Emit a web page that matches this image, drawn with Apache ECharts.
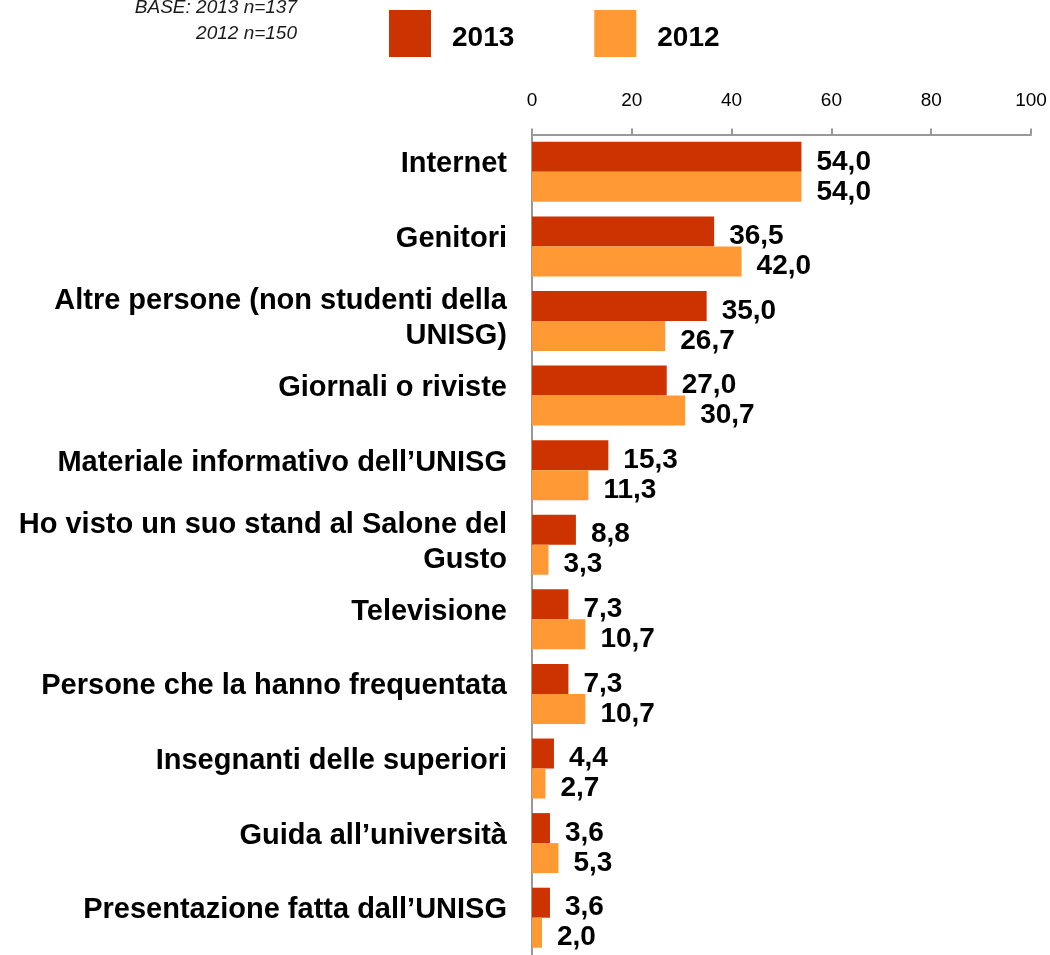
<!DOCTYPE html>
<html style="height: 100%">
<head>
    <meta charset="utf-8">
</head>
<body style="height: 100%; margin: 0">
<div id="container" style="width: 1050px; height: 955px"></div>
<script type="text/javascript" src="https://cdn.jsdelivr.net/npm/echarts@6/dist/echarts.min.js"></script>
<script type="text/javascript">
    var categories = [
        'Internet',
        'Genitori',
        'Altre persone (non studenti della\nUNISG)',
        'Giornali o riviste',
        'Materiale informativo dell\u2019UNISG',
        'Ho visto un suo stand al Salone del\nGusto',
        'Televisione',
        'Persone che la hanno frequentata',
        'Insegnanti delle superiori',
        'Guida all\u2019universit\u00e0',
        'Presentazione fatta dall\u2019UNISG'
    ];
    var values2013 = [54.0, 36.5, 35.0, 27.0, 15.3, 8.8, 7.3, 7.3, 4.4, 3.6, 3.6];
    var values2012 = [54.0, 42.0, 26.7, 30.7, 11.3, 3.3, 10.7, 10.7, 2.7, 5.3, 2.0];
    var baseLines = ['BASE: 2013 n=137', '2012 n=150'];

    var dom = document.getElementById("container");
    var myChart = echarts.init(dom);
    var font = 'Liberation Sans, Arial, sans-serif';

    function fmt(p) {
        return p.value.toFixed(1).replace('.', ',');
    }

    var valueLabel = {
        show: true,
        position: 'right',
        distance: 15,
        offset: [0, 5],
        formatter: fmt,
        color: '#000',
        fontSize: 28,
        fontWeight: 'bold',
        fontFamily: font
    };

    var option = {
        animation: false,
        textStyle: {fontFamily: font},
        legend: {
            left: 389,
            top: 10,
            padding: 0,
            itemWidth: 42,
            itemHeight: 47,
            itemGap: 80,
            icon: 'rect',
            formatter: function (name) {
                return '{s| }\n' + name;
            },
            textStyle: {
                fontSize: 28, fontWeight: 'bold', color: '#000', lineHeight: 32, padding: [0, 0, 0, 16],
                rich: {s: {fontSize: 4, lineHeight: 9}}
            },
            data: ['2013', '2012']
        },
        graphic: [
            {type: 'text', x: 297, y: 17,
                style: {text: baseLines[0], font: 'italic 19px ' + font, fill: '#1a1a1a', align: 'right', verticalAlign: 'bottom'}},
            {type: 'text', x: 297, y: 43,
                style: {text: baseLines[1], font: 'italic 19px ' + font, fill: '#1a1a1a', align: 'right', verticalAlign: 'bottom'}}
        ],
        grid: {left: 532, right: 19, top: 134.5, height: 828.5, containLabel: false},
        xAxis: {
            type: 'value',
            position: 'top',
            min: 0,
            max: 100,
            interval: 20,
            axisLine: {show: true, lineStyle: {color: '#999', width: 2}},
            axisTick: {show: true, length: 6, lineStyle: {color: '#999', width: 2}},
            axisLabel: {fontSize: 19, color: '#000', margin: 24},
            splitLine: {show: false}
        },
        yAxis: {
            type: 'category',
            inverse: true,
            data: categories,
            axisLine: {show: true, lineStyle: {color: '#999', width: 2}},
            axisTick: {show: false},
            axisLabel: {
                fontSize: 29, fontWeight: 'bold', color: '#000', margin: 25,
                lineHeight: 35, align: 'right',
                formatter: function (v) {
                    return v + (v.indexOf('\n') >= 0 ? '\n{m| }' : '\n{s| }');
                },
                rich: {
                    s: {fontSize: 4, lineHeight: 15},
                    m: {fontSize: 4, lineHeight: 5}
                }
            }
        },
        series: [
            {
                name: '2013',
                type: 'bar',
                data: values2013,
                barWidth: 30,
                barGap: '0%',
                itemStyle: {color: '#CC3300'},
                label: valueLabel
            },
            {
                name: '2012',
                type: 'bar',
                data: values2012,
                barWidth: 30,
                barGap: '0%',
                itemStyle: {color: '#FF9933'},
                label: valueLabel
            }
        ]
    };
    myChart.setOption(option);
</script>
</body>
</html>
